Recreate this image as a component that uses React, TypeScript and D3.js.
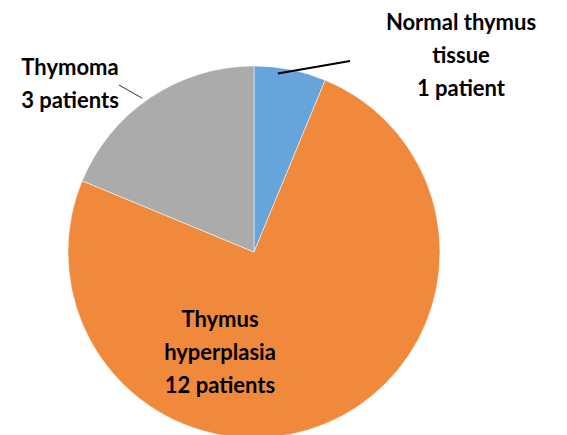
import React, { useEffect, useRef } from 'react';
import * as d3 from 'd3';

// slices, clockwise from 12 o'clock
const categories = ['Normal thymus tissue', 'Thymus hyperplasia', 'Thymoma'];
const patients = [1, 12, 3];
const labelLines = [
  ['Normal thymus', 'tissue', '1 patient'],
  ['Thymus', 'hyperplasia', '12 patients'],
  ['Thymoma', '3 patients'],
];
const colors = ['#66A4DA', '#F0893B', '#ABABAB'];

// where each label sits, relative to the pie centre
const labelPlace = [
  { x: 207, y: -197, lineFrom: [7.6, 180], lineTo: [96, -191] },
  { x: -34, y: 100, lineFrom: null, lineTo: null },
  { x: -184, y: -168, lineFrom: [-36, 190], lineTo: [-135, -167] },
];

const W = 567;
const H = 435;

export default function App() {
  const ref = useRef<SVGSVGElement>(null);

  useEffect(() => {
    const svg = d3.select(ref.current);
    svg.selectAll('*').remove();

    const cx = 254;
    const cy = 252;
    const radius = 186;

    const data = categories.map((c, i) => ({ name: c, value: patients[i], i }));
    const pie = d3.pie<any>().sort(null).value(d => d.value);
    const arc = d3.arc<any>().innerRadius(0).outerRadius(radius);

    const g = svg.append('g').attr('transform', `translate(${cx},${cy})`);

    g.selectAll('path')
      .data(pie(data))
      .join('path')
      .attr('d', arc)
      .attr('fill', d => colors[d.data.i])
      .attr('stroke', '#ffffff')
      .attr('stroke-width', 0.5);

    // leader lines
    labelPlace.forEach((p, i) => {
      if (!p.lineFrom) return;
      const [deg, r] = p.lineFrom;
      const a = (deg * Math.PI) / 180;
      g.append('line')
        .attr('x1', Math.sin(a) * r)
        .attr('y1', -Math.cos(a) * r)
        .attr('x2', p.lineTo![0])
        .attr('y2', p.lineTo![1])
        .attr('stroke', i === 0 ? '#000' : '#333')
        .attr('stroke-width', i === 0 ? 2 : 1);
    });

    const lineH = 33;
    labelLines.forEach((lines, i) => {
      const p = labelPlace[i];
      const t = g.append('text')
        .attr('text-anchor', 'middle')
        .attr('font-family', 'Lato, "Open Sans", sans-serif')
        .attr('font-weight', 'bold')
        .attr('font-size', 22)
        .attr('fill', '#000');
      const n = lines.length;
      lines.forEach((s, k) => {
        t.append('tspan')
          .attr('x', p.x)
          .attr('y', p.y + (k - (n - 1) / 2) * lineH)
          .attr('dy', '0.35em')
          .text(s);
      });
    });
  }, []);

  return (
    <div style={{ position: 'fixed', left: 0, top: 0, background: '#fff' }}>
      <svg ref={ref} width={W} height={H} style={{ display: 'block' }} />
    </div>
  );
}
